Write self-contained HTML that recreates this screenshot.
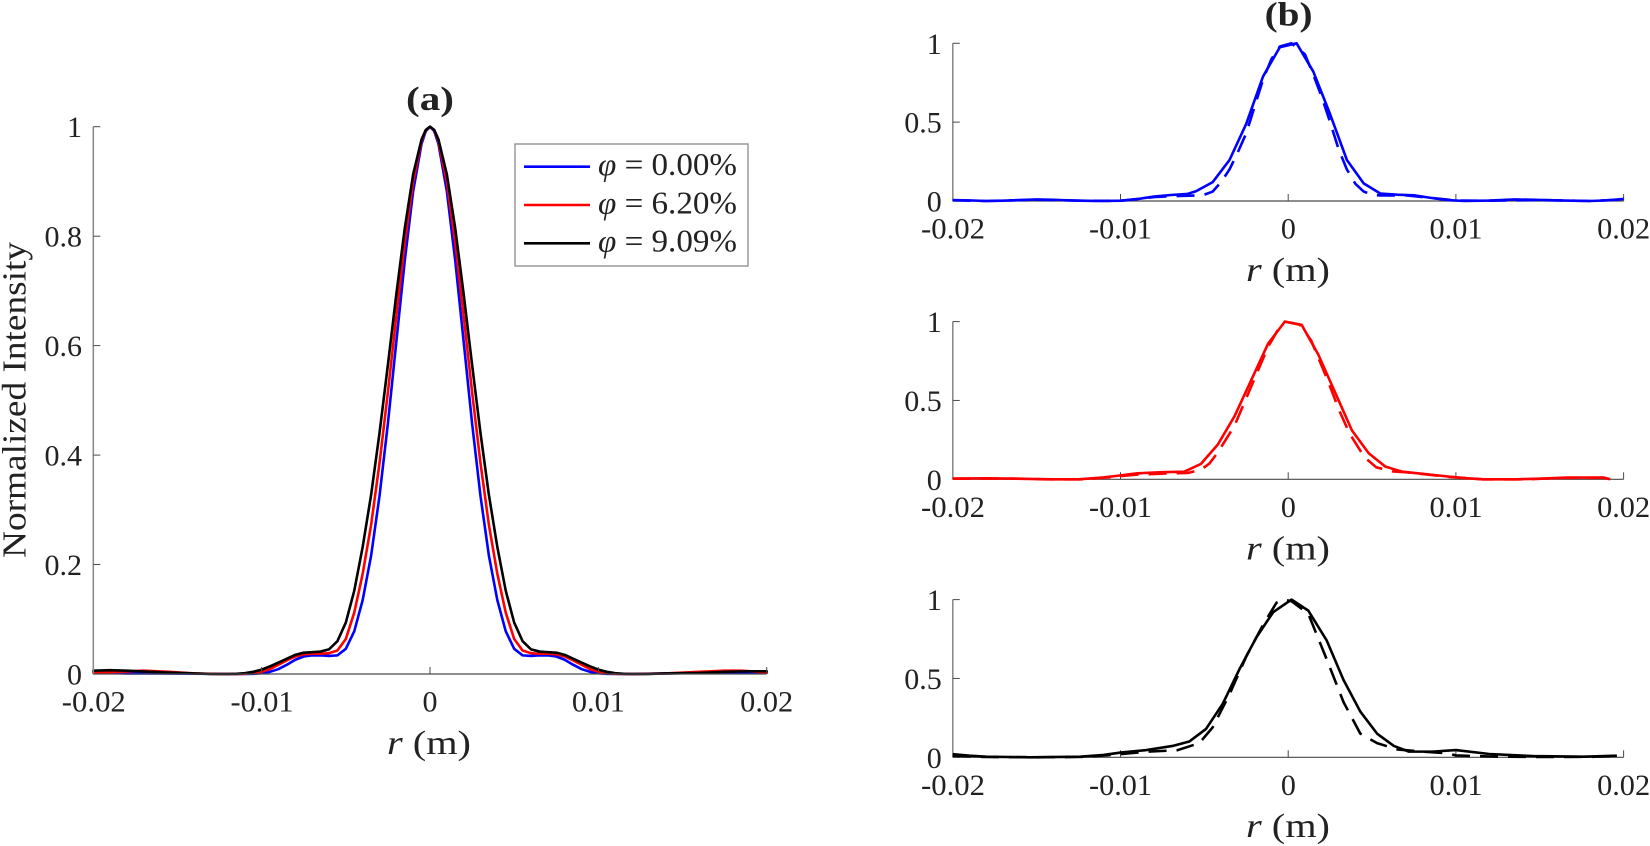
<!DOCTYPE html>
<html>
<head>
<meta charset="utf-8">
<style>
html,body{margin:0;padding:0;background:#fff;}
svg{display:block;}
text{font-family:"Liberation Serif","DejaVu Serif",serif;fill:#222;}
</style>
</head>
<body>
<svg width="1650" height="846" viewBox="0 0 1650 846" xmlns="http://www.w3.org/2000/svg">
<rect width="1650" height="846" fill="#fff"/>

<!-- ===== Panel (a) curves ===== -->
<g fill="none" stroke-width="2.6" stroke-linejoin="round" stroke-linecap="round">
<polyline stroke="#0000ff" points="93.3,671.81 110.13,672.91 126.97,673.45 160.64,673.45 194.31,673.73 227.98,674 244.81,674 253.23,673.84 261.65,673.18 270.07,671.81 278.48,669.07 286.9,664.7 295.32,659.77 303.74,656.49 312.15,655.39 320.57,655.39 328.99,655.94 337.41,655.39 345.82,648.82 354.24,631.31 362.66,600.11 371.08,555.78 379.49,496.13 387.91,423.34 396.33,341.79 404.75,260.79 413.16,191.28 421.58,143.67 425.79,131.1 430,126.7 434.21,131.1 438.42,143.67 446.84,191.28 455.25,260.79 463.67,341.79 472.09,423.34 480.51,496.13 488.92,555.78 497.34,600.11 505.76,631.31 514.18,648.82 522.59,655.39 531.01,655.94 539.43,655.39 547.85,655.39 556.26,656.49 564.68,659.77 573.1,664.7 581.52,669.07 589.93,671.81 598.35,673.18 606.77,673.84 615.19,674 632.02,674 665.69,673.45 699.36,672.91 724.61,672.36 749.87,672.91 766.7,672.36"/>
<polyline stroke="#ff0000" points="93.3,672.91 118.55,671.81 143.8,670.72 169.06,671.81 194.31,673.45 219.56,674 236.4,674 244.81,673.84 253.23,673.18 261.65,671.81 270.07,669.07 278.48,664.7 286.9,660.32 295.32,656.49 303.74,654.3 312.15,653.75 320.57,653.75 328.99,653.2 337.41,650.47 345.82,638.97 354.24,612.7 362.66,573.84 371.08,525.13 379.49,463.29 387.91,392.14 396.33,316.07 404.75,242.73 413.16,181.98 421.58,140.93 425.79,130.3 430,126.7 434.21,130.3 438.42,140.93 446.84,181.98 455.25,242.73 463.67,316.07 472.09,392.14 480.51,463.29 488.92,525.13 497.34,573.84 505.76,612.7 514.18,638.97 522.59,650.47 531.01,653.2 539.43,653.75 547.85,653.75 556.26,654.3 564.68,656.49 573.1,660.32 581.52,664.7 589.93,669.07 598.35,671.81 606.77,673.18 615.19,673.84 623.6,674 640.44,674 665.69,673.45 699.36,671.81 724.61,670.72 741.45,670.72 758.28,671.81 766.7,672.91"/>
<polyline stroke="#000000" points="93.3,670.72 110.13,670.17 126.97,670.72 160.64,672.36 194.31,673.45 211.14,674 227.98,674 236.4,673.84 244.81,673.18 253.23,671.81 261.65,669.62 270.07,666.34 278.48,662.51 286.9,658.68 295.32,654.84 303.74,652.66 312.15,652.11 320.57,651.56 328.99,649.37 337.41,641.16 345.82,622.55 354.24,590.81 362.66,547.03 371.08,495.03 379.49,433.19 387.91,364.78 396.33,294.17 404.75,228.5 413.16,174.32 421.58,139.29 425.79,129.9 430,126.7 434.21,129.9 438.42,139.29 446.84,174.32 455.25,228.5 463.67,294.17 472.09,364.78 480.51,433.19 488.92,495.03 497.34,547.03 505.76,590.81 514.18,622.55 522.59,641.16 531.01,649.37 539.43,651.56 547.85,652.11 556.26,652.66 564.68,654.84 573.1,658.68 581.52,662.51 589.93,666.34 598.35,669.62 606.77,671.81 615.19,673.18 623.6,673.84 632.02,674 648.86,674 665.69,673.45 699.36,672.91 724.61,671.81 749.87,671.26 766.7,671.26"/>
</g>

<!-- ===== Panel (a) axes ===== -->
<line x1="93.3" y1="126.7" x2="93.3" y2="674" stroke="#8c8c8c" stroke-width="1.6"/>
<line x1="93.3" y1="674" x2="766.7" y2="674" stroke="#4a4a4a" stroke-width="1.2"/>
<g stroke="#4a4a4a" stroke-width="1">
  <line x1="93.3" y1="674" x2="100.3" y2="674"/>
  <line x1="93.3" y1="564.5" x2="100.3" y2="564.5"/>
  <line x1="93.3" y1="455.1" x2="100.3" y2="455.1"/>
  <line x1="93.3" y1="345.6" x2="100.3" y2="345.6"/>
  <line x1="93.3" y1="236.2" x2="100.3" y2="236.2"/>
  <line x1="93.3" y1="126.7" x2="100.3" y2="126.7"/>
  <line x1="261.6" y1="674" x2="261.6" y2="667"/>
  <line x1="430" y1="674" x2="430" y2="667"/>
  <line x1="598.4" y1="674" x2="598.4" y2="667"/>
  <line x1="766.7" y1="674" x2="766.7" y2="667"/>
</g>
<g font-size="30" text-anchor="end">
  <text x="82" y="684.5">0</text>
  <text x="82" y="575">0.2</text>
  <text x="82" y="465.6">0.4</text>
  <text x="82" y="356.1">0.6</text>
  <text x="82" y="246.7">0.8</text>
  <text x="82" y="137.2">1</text>
</g>
<g font-size="30" text-anchor="middle">
  <text x="93.8" y="711.7" textLength="64" lengthAdjust="spacingAndGlyphs">-0.02</text>
  <text x="262" y="711.7" textLength="63" lengthAdjust="spacingAndGlyphs">-0.01</text>
  <text x="430" y="711.7">0</text>
  <text x="598.4" y="711.7" textLength="53" lengthAdjust="spacingAndGlyphs">0.01</text>
  <text x="766.7" y="711.7" textLength="53" lengthAdjust="spacingAndGlyphs">0.02</text>
</g>
<text x="429" y="754" font-size="34" text-anchor="middle" textLength="84" lengthAdjust="spacingAndGlyphs"><tspan font-style="italic">r</tspan> (m)</text>
<text transform="translate(25.5,400) rotate(-90)" font-size="34" text-anchor="middle" textLength="316" lengthAdjust="spacingAndGlyphs">Normalized Intensity</text>
<text x="430" y="110" font-size="34" font-weight="bold" text-anchor="middle" textLength="48" lengthAdjust="spacingAndGlyphs">(a)</text>

<!-- Legend -->
<rect x="515" y="144" width="233" height="122" fill="#fff" stroke="#8a8a8a" stroke-width="1.3"/>
<line x1="524" y1="166.7" x2="590" y2="166.7" stroke="#0000ff" stroke-width="2.6"/>
<line x1="524" y1="205" x2="590" y2="205" stroke="#ff0000" stroke-width="2.6"/>
<line x1="524" y1="243.3" x2="590" y2="243.3" stroke="#000" stroke-width="2.6"/>
<g font-size="32">
  <text x="598" y="175" textLength="139" lengthAdjust="spacingAndGlyphs"><tspan font-style="italic">φ</tspan> = 0.00%</text>
  <text x="598" y="213.3" textLength="139" lengthAdjust="spacingAndGlyphs"><tspan font-style="italic">φ</tspan> = 6.20%</text>
  <text x="598" y="251.7" textLength="139" lengthAdjust="spacingAndGlyphs"><tspan font-style="italic">φ</tspan> = 9.09%</text>
</g>

<!-- ===== Panel (b) axes ===== -->
<g>
  <line x1="952.8" y1="43.3" x2="952.8" y2="201" stroke="#8c8c8c" stroke-width="1.6"/>
  <line x1="952.8" y1="201" x2="1623.6" y2="201" stroke="#4a4a4a" stroke-width="1.2"/>
  <line x1="952.8" y1="321.6" x2="952.8" y2="479.3" stroke="#8c8c8c" stroke-width="1.6"/>
  <line x1="952.8" y1="479.3" x2="1623.6" y2="479.3" stroke="#4a4a4a" stroke-width="1.2"/>
  <line x1="952.8" y1="599.6" x2="952.8" y2="757.3" stroke="#8c8c8c" stroke-width="1.6"/>
  <line x1="952.8" y1="757.3" x2="1623.6" y2="757.3" stroke="#4a4a4a" stroke-width="1.2"/>
  <g stroke="#4a4a4a" stroke-width="1">
    <line x1="952.8" y1="201" x2="959.8" y2="201"/>
    <line x1="952.8" y1="122.15" x2="959.8" y2="122.15"/>
    <line x1="952.8" y1="43.3" x2="959.8" y2="43.3"/>
    <line x1="1120.5" y1="201" x2="1120.5" y2="194"/>
    <line x1="1288.2" y1="201" x2="1288.2" y2="194"/>
    <line x1="1455.9" y1="201" x2="1455.9" y2="194"/>
    <line x1="1623.6" y1="201" x2="1623.6" y2="194"/>

    <line x1="952.8" y1="479.3" x2="959.8" y2="479.3"/>
    <line x1="952.8" y1="400.45" x2="959.8" y2="400.45"/>
    <line x1="952.8" y1="321.6" x2="959.8" y2="321.6"/>
    <line x1="1120.5" y1="479.3" x2="1120.5" y2="472.3"/>
    <line x1="1288.2" y1="479.3" x2="1288.2" y2="472.3"/>
    <line x1="1455.9" y1="479.3" x2="1455.9" y2="472.3"/>
    <line x1="1623.6" y1="479.3" x2="1623.6" y2="472.3"/>

    <line x1="952.8" y1="757.3" x2="959.8" y2="757.3"/>
    <line x1="952.8" y1="678.45" x2="959.8" y2="678.45"/>
    <line x1="952.8" y1="599.6" x2="959.8" y2="599.6"/>
    <line x1="1120.5" y1="757.3" x2="1120.5" y2="750.3"/>
    <line x1="1288.2" y1="757.3" x2="1288.2" y2="750.3"/>
    <line x1="1455.9" y1="757.3" x2="1455.9" y2="750.3"/>
    <line x1="1623.6" y1="757.3" x2="1623.6" y2="750.3"/>
  </g>
</g>

<!-- ===== Panel (b) curves ===== -->
<g fill="none" stroke-width="2.6" stroke-linejoin="round">
<!-- top blue -->
<polyline stroke="#0000ff" stroke-dasharray="18 10" points="952.8,200.37 986.34,201 1036.65,199.74 1086.96,200.84 1120.5,200.84 1154.04,197.06 1179.2,195.95 1195.97,195.48 1204.35,194.69 1212.74,191.54 1221.12,182.08 1229.51,169.46 1237.89,152.11 1246.28,133.19 1254.66,106.38 1263.05,79.57 1271.43,59.07 1279.82,46.45 1291.55,43.3 1304.97,54.34 1313.36,74.84 1321.74,96.92 1330.13,122.15 1338.51,148.96 1346.9,169.46 1355.28,183.65 1363.67,191.54 1372.05,194.69 1380.44,195.48 1405.59,195.32 1430.75,197.85 1455.9,200.53 1489.44,200.68 1539.75,200.05 1590.06,201 1623.6,199.42"/>
<polyline stroke="#0000ff" points="952.8,200.05 969.57,200.37 986.34,201 1003.11,200.68 1019.88,200.05 1036.65,199.42 1053.42,199.74 1070.19,200.37 1086.96,200.84 1103.73,201 1120.5,200.68 1137.27,199.11 1154.04,196.58 1170.81,195.01 1187.58,193.9 1195.97,191.22 1212.74,182.08 1229.51,160 1246.28,123.73 1263.05,76.42 1279.82,47.24 1296.59,43.3 1313.36,71.69 1330.13,114.26 1346.9,160 1363.67,183.34 1380.44,193.59 1397.21,194.69 1413.98,195.32 1430.75,197.85 1447.52,200.05 1464.29,201 1489.44,200.53 1514.6,199.42 1539.75,199.9 1564.91,200.53 1590.06,201 1606.83,200.37 1623.6,198.95"/>
<!-- middle red -->
<polyline stroke="#ff0000" stroke-dasharray="18 10" points="952.8,478.67 1003.11,478.51 1053.42,479.3 1086.96,479.3 1120.5,476.15 1137.27,474.57 1170.81,473.31 1187.58,472.99 1200.8,469.84 1209.38,463.53 1217.77,452.49 1234.54,425.68 1251.31,386.26 1268.08,346.83 1278.14,329.48 1284.85,321.6 1299.94,324.75 1311.17,340.52 1326.27,376.79 1339.68,411.49 1349.58,433.57 1364.5,457.22 1376.24,467.31 1392.84,471.41 1405.59,472.2 1449.19,476.93 1482.73,479.3 1522.98,479.3 1566.58,477.88 1603.48,477.72 1611.86,479.3"/>
<polyline stroke="#ff0000" points="952.8,478.51 986.34,478.35 1019.88,478.67 1045.04,479.3 1078.58,479.3 1103.73,477.41 1120.5,475.36 1137.27,473.31 1162.43,472.2 1184.23,471.73 1200.8,464 1217.77,444.61 1234.54,416.22 1251.31,379.95 1268.08,343.68 1284.85,321.6 1301.62,324.75 1318.39,354.72 1335.16,392.56 1351.93,430.41 1368.7,453.28 1385.47,466.68 1402.24,471.73 1422.36,473.78 1449.19,476.62 1464.29,478.04 1482.73,479.3 1516.27,479.3 1539.75,478.67 1566.58,477.57 1603.48,477.57 1610.18,479.3"/>
<!-- bottom black -->
<polyline stroke="#000000" stroke-dasharray="18 10" points="952.8,755.72 986.34,756.98 1036.65,757.3 1086.96,756.83 1120.5,754.15 1145.66,751.78 1177.52,750.2 1199.32,743.11 1212.74,727.34 1229.51,694.22 1246.28,656.37 1263.05,624.83 1276.46,602.75 1283.17,599.6 1291.55,601.18 1308.32,613.79 1326.77,659.53 1343.54,702.1 1360.31,733.64 1377.08,743.11 1387.14,746.26 1397.21,749.41 1422.36,751.62 1447.52,753.36 1455.9,755.41 1489.44,756.51 1539.75,756.98 1590.06,756.83 1616.89,756.04"/>
<polyline stroke="#000000" points="952.8,754.15 969.57,755.72 986.34,756.67 1029.94,757.3 1080.25,756.67 1103.73,754.93 1120.5,752.57 1145.66,750.2 1172.49,745.95 1189.26,741.53 1206.03,728.91 1222.8,703.68 1239.57,668.99 1256.34,637.45 1273.11,612.22 1291.55,599.6 1308.32,610.64 1326.77,640.6 1343.54,680.03 1360.31,711.57 1377.08,733.64 1393.85,745.95 1408.94,751.62 1432.42,751.62 1455.9,750.05 1489.44,753.99 1533.04,756.04 1583.35,756.67 1616.89,755.72"/>
</g>

<!-- ===== Panel (b) text ===== -->
<text x="1288.6" y="25.5" font-size="34" font-weight="bold" text-anchor="middle" textLength="48" lengthAdjust="spacingAndGlyphs">(b)</text>
<g font-size="30" text-anchor="end">
  <text x="941.7" y="211.5">0</text>
  <text x="941.7" y="132.7">0.5</text>
  <text x="941.7" y="53.8">1</text>
  <text x="941.7" y="489.8">0</text>
  <text x="941.7" y="411">0.5</text>
  <text x="941.7" y="332.1">1</text>
  <text x="941.7" y="767.8">0</text>
  <text x="941.7" y="689">0.5</text>
  <text x="941.7" y="610.1">1</text>
</g>
<g font-size="30" text-anchor="middle">
  <text x="953" y="238.5" textLength="64" lengthAdjust="spacingAndGlyphs">-0.02</text>
  <text x="1120.5" y="238.5" textLength="63" lengthAdjust="spacingAndGlyphs">-0.01</text>
  <text x="1288.4" y="238.5">0</text>
  <text x="1456" y="238.5" textLength="53" lengthAdjust="spacingAndGlyphs">0.01</text>
  <text x="1623.6" y="238.5" textLength="53" lengthAdjust="spacingAndGlyphs">0.02</text>

  <text x="953" y="516.8" textLength="64" lengthAdjust="spacingAndGlyphs">-0.02</text>
  <text x="1120.5" y="516.8" textLength="63" lengthAdjust="spacingAndGlyphs">-0.01</text>
  <text x="1288.4" y="516.8">0</text>
  <text x="1456" y="516.8" textLength="53" lengthAdjust="spacingAndGlyphs">0.01</text>
  <text x="1623.6" y="516.8" textLength="53" lengthAdjust="spacingAndGlyphs">0.02</text>

  <text x="953" y="794.8" textLength="64" lengthAdjust="spacingAndGlyphs">-0.02</text>
  <text x="1120.5" y="794.8" textLength="63" lengthAdjust="spacingAndGlyphs">-0.01</text>
  <text x="1288.4" y="794.8">0</text>
  <text x="1456" y="794.8" textLength="53" lengthAdjust="spacingAndGlyphs">0.01</text>
  <text x="1623.6" y="794.8" textLength="53" lengthAdjust="spacingAndGlyphs">0.02</text>
</g>
<g font-size="34" text-anchor="middle">
  <text x="1288" y="281" textLength="84" lengthAdjust="spacingAndGlyphs"><tspan font-style="italic">r</tspan> (m)</text>
  <text x="1288" y="559.3" textLength="84" lengthAdjust="spacingAndGlyphs"><tspan font-style="italic">r</tspan> (m)</text>
  <text x="1288" y="837" textLength="84" lengthAdjust="spacingAndGlyphs"><tspan font-style="italic">r</tspan> (m)</text>
</g>
</svg>
</body>
</html>
